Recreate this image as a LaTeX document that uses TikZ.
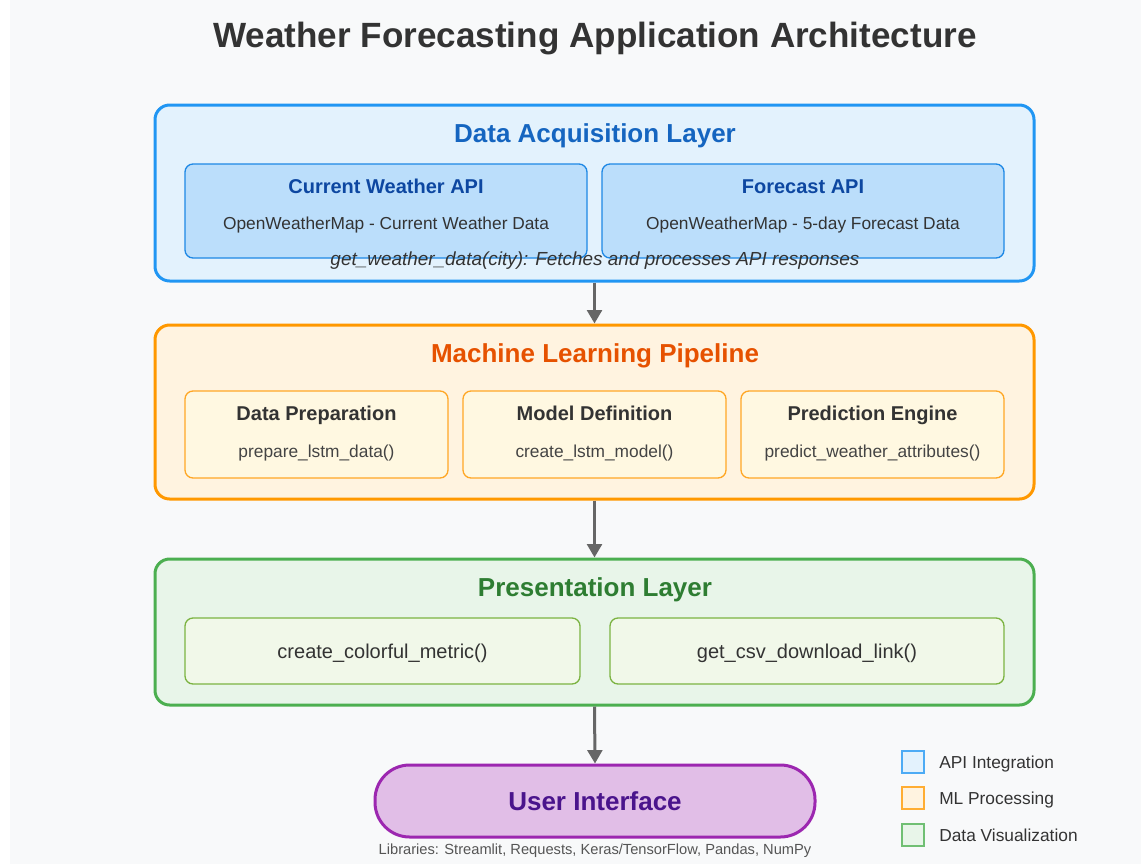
\documentclass[tikz,border=0pt]{standalone}
\usepackage{fontspec}
\setmainfont{Liberation Sans}
\usetikzlibrary{arrows.meta}
\definecolor{bg}{HTML}{F8F9FA}
\definecolor{txt}{HTML}{333333}
\definecolor{subtxt}{HTML}{444444}
\definecolor{bluebd}{HTML}{2196F3}
\definecolor{bluefill}{HTML}{E3F2FD}
\definecolor{bluetitle}{HTML}{1565C0}
\definecolor{bluesubfill}{HTML}{BBDEFB}
\definecolor{bluesubbd}{HTML}{1E88E5}
\definecolor{bluesubtitle}{HTML}{0D47A1}
\definecolor{orbd}{HTML}{FF9800}
\definecolor{orfill}{HTML}{FFF3E0}
\definecolor{ortitle}{HTML}{E65100}
\definecolor{orsubfill}{HTML}{FFF8E1}
\definecolor{orsubbd}{HTML}{FFA726}
\definecolor{grbd}{HTML}{4CAF50}
\definecolor{grfill}{HTML}{E8F5E9}
\definecolor{grtitle}{HTML}{2E7D32}
\definecolor{grsubfill}{HTML}{F1F8E9}
\definecolor{grsubbd}{HTML}{7CB342}
\definecolor{pubd}{HTML}{9C27B0}
\definecolor{pufill}{HTML}{E1BEE7}
\definecolor{putitle}{HTML}{4A148C}
\definecolor{arrowc}{HTML}{666666}
\definecolor{libc}{HTML}{555555}
\tikzset{
  layer/.style={draw, line width=2.25pt, rounded corners=11pt, inner sep=0pt,
    minimum width=879*0.75pt},
  subbox/.style={draw, line width=1pt, rounded corners=6pt, inner sep=0pt},
  lbl/.style={inner sep=0pt, anchor=base},
  layertitle/.style={lbl, font=\bfseries\fontsize{19.5}{23}\selectfont},
  subtitle/.style={lbl, font=\bfseries\fontsize{15}{18}\selectfont},
  subtext/.style={lbl, font=\fontsize{13}{16}\selectfont, text=subtxt},
  flow/.style={draw=arrowc, line width=2.25pt, -{Triangle[length=10pt,width=11pt]}},
  legbox/.style={draw, line width=1pt, minimum size=22*0.75pt, inner sep=0pt},
  legtext/.style={font=\fontsize{13}{16}\selectfont, text=txt, anchor=base west, inner sep=0pt}
}
\begin{document}
\begin{tikzpicture}[x=0.75pt,y=-0.75pt]
\useasboundingbox (0,0) rectangle (1141,864);
\fill[white] (0,0) rectangle (1141,864);
\fill[bg] (10,0) rectangle (1141,864);

\node[lbl, font=\bfseries\fontsize{26.3}{31}\selectfont, text=txt] (title) at (595,47) {Weather Forecasting Application Architecture};

% Layer 1
\node[layer, draw=bluebd, fill=bluefill, minimum height=176*0.75pt] (dal) at (594.5,193) {};
\node[layertitle, text=bluetitle] (daltitle) at (595,142) {Data Acquisition Layer};
\node[subbox, draw=bluesubbd, fill=bluesubfill, minimum width=402*0.75pt, minimum height=94*0.75pt] (cwapi) at (386,211) {};
\node[subtitle, text=bluesubtitle] (cwt) at (386,193) {Current Weather API};
\node[subtext, text=txt] (cws) at (386,229) {OpenWeatherMap - Current Weather Data};
\node[subbox, draw=bluesubbd, fill=bluesubfill, minimum width=402*0.75pt, minimum height=94*0.75pt] (fapi) at (803,211) {};
\node[subtitle, text=bluesubtitle] (ft) at (803,193) {Forecast API};
\node[subtext, text=txt] (fs) at (803,229) {OpenWeatherMap - 5-day Forecast Data};
\node[lbl, font=\itshape\fontsize{14.2}{17}\selectfont, text=txt] (gwd) at (595,265) {get\_weather\_data(city): Fetches and processes API responses};

% Layer 2
\node[layer, draw=orbd, fill=orfill, minimum height=174*0.75pt] (mlp) at (594.5,412) {};
\node[layertitle, text=ortitle] (mlptitle) at (595,362) {Machine Learning Pipeline};
\node[subbox, draw=orsubbd, fill=orsubfill, minimum width=263*0.75pt, minimum height=87*0.75pt] (dp) at (316.5,434.5) {};
\node[subtitle, text=txt] (dpt) at (316.5,420) {Data Preparation};
\node[subtext] (dps) at (316.5,457) {prepare\_lstm\_data()};
\node[subbox, draw=orsubbd, fill=orsubfill, minimum width=263*0.75pt, minimum height=87*0.75pt] (md) at (594.5,434.5) {};
\node[subtitle, text=txt] (mdt) at (594.5,420) {Model Definition};
\node[subtext] (mds) at (594.5,457) {create\_lstm\_model()};
\node[subbox, draw=orsubbd, fill=orsubfill, minimum width=263*0.75pt, minimum height=87*0.75pt] (pe) at (872.5,434.5) {};
\node[subtitle, text=txt] (pet) at (872.5,420) {Prediction Engine};
\node[subtext] (pes) at (872.5,457) {predict\_weather\_attributes()};

% Layer 3
\node[layer, draw=grbd, fill=grfill, minimum height=146*0.75pt] (pl) at (594.5,632) {};
\node[layertitle, text=grtitle] (pltitle) at (595,596) {Presentation Layer};
\node[subbox, draw=grsubbd, fill=grsubfill, minimum width=395*0.75pt, minimum height=66*0.75pt] (ccm) at (382.5,651) {};
\node[lbl, font=\fontsize{15}{18}\selectfont, text=txt] (ccmt) at (382.5,658) {create\_colorful\_metric()};
\node[subbox, draw=grsubbd, fill=grsubfill, minimum width=394*0.75pt, minimum height=66*0.75pt] (gcd) at (807,651) {};
\node[lbl, font=\fontsize{15}{18}\selectfont, text=txt] (gcdt) at (807,658) {get\_csv\_download\_link()};

% User interface
\node[draw=pubd, fill=pufill, line width=2.25pt, rounded corners=26pt, minimum width=440*0.75pt, minimum height=72*0.75pt, inner sep=0pt] (ui) at (595,801) {};
\node[lbl, font=\bfseries\fontsize{19.5}{23}\selectfont, text=putitle] (uit) at (595,810) {User Interface};
\node[lbl, font=\fontsize{11}{13}\selectfont, text=libc] (libs) at (595,854) {Libraries: Streamlit, Requests, Keras/TensorFlow, Pandas, NumPy};

% Arrows
\draw[flow] (dal.south) -- (mlp.north);
\draw[flow] (mlp.south) -- (pl.north);
\draw[flow] (pl.south) -- (ui.north);

% Legend
\node[legbox, draw=bluebd!80, fill=bluefill] (lg1) at (913,762) {};
\node[legtext] (lt1) at (939,768) {API Integration};
\node[legbox, draw=orbd!80, fill=orfill] (lg2) at (913,798) {};
\node[legtext] (lt2) at (939,804) {ML Processing};
\node[legbox, draw=grbd!80, fill=grfill] (lg3) at (913,835) {};
\node[legtext] (lt3) at (939,841) {Data Visualization};
\end{tikzpicture}
\end{document}
